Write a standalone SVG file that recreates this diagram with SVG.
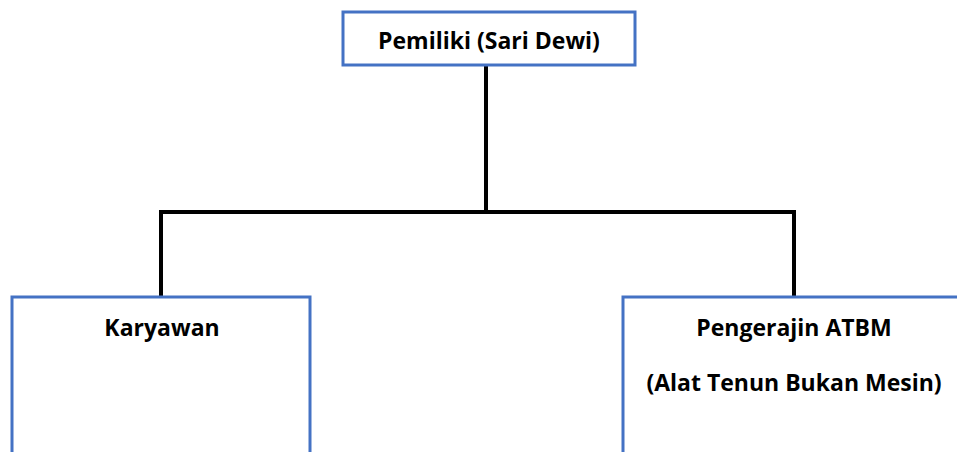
<svg xmlns="http://www.w3.org/2000/svg" width="957" height="452" viewBox="0 0 957 452">
<style>
.box{fill:#fff;stroke:#4472C4;stroke-width:3}
.lbl{font-family:"Open Sans","Liberation Sans",sans-serif;font-weight:bold;font-size:23px;fill:#000;text-anchor:middle}
.con{stroke:#000;stroke-width:4;fill:none}
</style>
<rect width="957" height="452" fill="#fff"/>
<g id="connectors">
<line class="con" x1="486" y1="58" x2="486" y2="212"/>
<line class="con" x1="159" y1="212" x2="796" y2="212"/>
<line class="con" x1="161" y1="210" x2="161" y2="297"/>
<line class="con" x1="794" y1="210" x2="794" y2="297"/>
</g>
<g id="pemilik">
<rect class="box" x="343" y="12" width="292" height="53"/>
<text class="lbl" x="489" y="49">Pemiliki (Sari Dewi)</text>
</g>
<g id="karyawan">
<rect class="box" x="12" y="297" width="298" height="170"/>
<text class="lbl" x="162" y="336">Karyawan</text>
</g>
<g id="pengerajin">
<rect class="box" x="623" y="297" width="350" height="170"/>
<text class="lbl" x="794" y="336">Pengerajin ATBM</text>
<text class="lbl" x="794" y="391">(Alat Tenun Bukan Mesin)</text>
</g>
</svg>
